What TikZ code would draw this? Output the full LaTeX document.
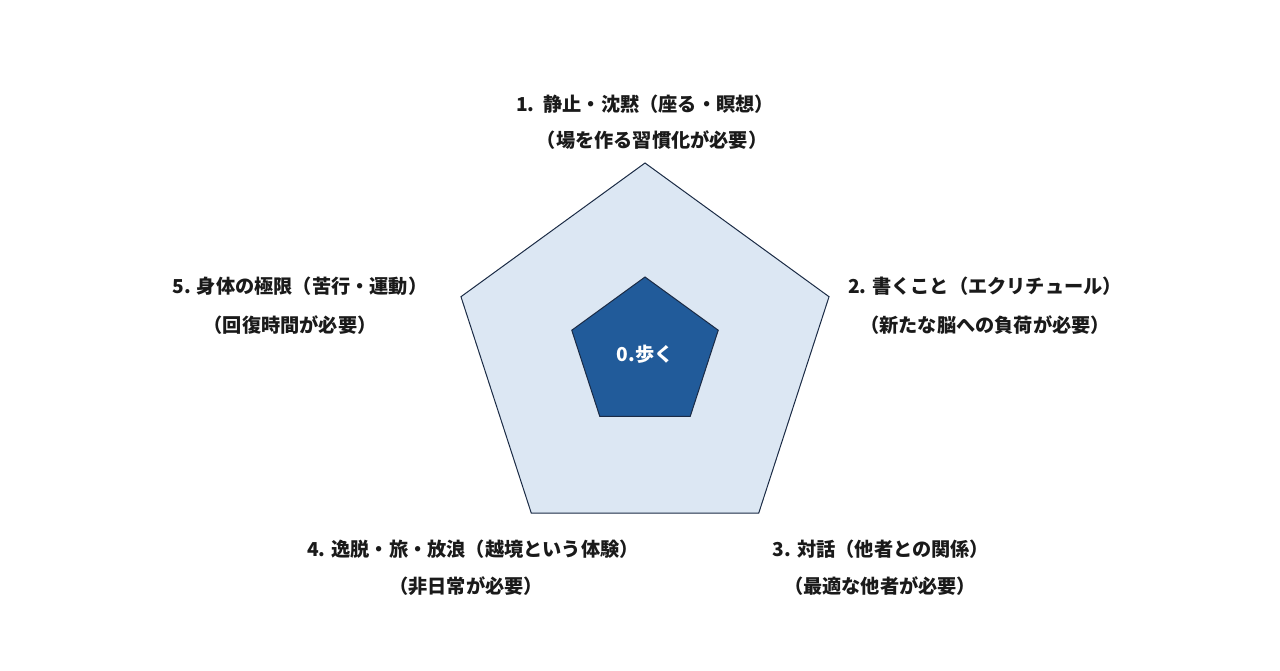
\documentclass[tikz,border=0pt]{standalone}
\usepackage{fontspec}
\newfontfamily\jp{Noto Sans CJK JP}
\usetikzlibrary{shapes.geometric}
\definecolor{paleblue}{HTML}{DCE7F3}
\definecolor{deepblue}{HTML}{215B9A}
\definecolor{edgeblue}{HTML}{1B2B45}
\definecolor{labelgray}{HTML}{1A1A1A}
\begin{document}
\begin{tikzpicture}[x=0.5pt,y=-0.5pt]
            % Define styles
            \tikzstyle{pent} = [regular polygon,regular polygon sides=5,draw=edgeblue,line width=0.5pt,inner sep=0,outer sep=0]
            \tikzstyle{lab} = [font=\jp\bfseries\fontsize{9.6}{12}\selectfont,text=labelgray,inner sep=0]
            \useasboundingbox (0,0) rectangle (1280,670);
            % Pentagons
            	% Outer
            	\node (outer) at (645,356.5) [pent,fill=paleblue,minimum size=193.5pt]{};
            	% Inner
            	\node (inner) at (645,354) [pent,fill=deepblue,minimum size=77pt,text=white,font=\jp\bfseries\fontsize{9.6}{12}\selectfont]{0.歩く};
            % Labels round the pentagon
            	% Top
            	\node (l1a) at (645,104) [lab]{1.\ \ 静止・沈黙（座る・瞑想）};
            	\node (l1b) at (652,140) [lab]{（場を作る習慣化が必要）};
            	% Right
            	\node (l2a) at (985,286) [lab]{2. 書くこと（エクリチュール）};
            	\node (l2b) at (985,325) [lab]{（新たな脳への負荷が必要）};
            	% Bottom right
            	\node (l3a) at (881,549) [lab]{3. 対話（他者との関係）};
            	\node (l3b) at (880,586) [lab]{（最適な他者が必要）};
            	% Bottom left
            	\node (l4a) at (473,549) [lab]{4. 逸脱・旅・放浪（越境という体験）};
            	\node (l4b) at (466,586) [lab]{（非日常が必要）};
            	% Left
            	\node (l5a) at (300,286) [lab]{5. 身体の極限（苦行・運動）};
            	\node (l5b) at (290,325) [lab]{（回復時間が必要）};
\end{tikzpicture}
\end{document}
